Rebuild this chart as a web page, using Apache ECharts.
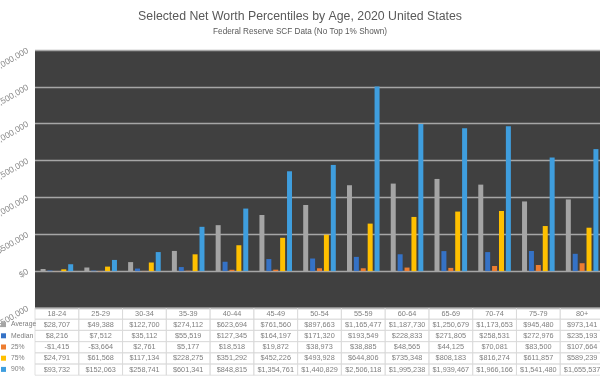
<!DOCTYPE html>
<html>
<head>
<meta charset="utf-8">
<script src="https://cdn.jsdelivr.net/npm/echarts@6/dist/echarts.min.js"></script>
<style>
html,body{margin:0;padding:0;background:#fff;}
#c{width:600px;height:380px;}
</style>
</head>
<body>
<div id="c"></div>
<script>
const categories = ['18-24','25-29','30-34','35-39','40-44','45-49','50-54','55-59','60-64','65-69','70-74','75-79','80+'];
const average = [28707,49388,122700,274112,623694,761560,897663,1165477,1187730,1250679,1173653,945480,973141];
const median = [8216,7512,35112,55519,127345,164197,171320,193549,228833,271805,258531,272976,235193];
const p25 = [-1415,-3664,2761,5177,18518,19872,38973,38885,48565,44125,70081,83500,107664];
const p75 = [24791,61568,117134,228275,351292,452226,493928,644806,735348,808183,816274,611857,589239];
const p90 = [93732,152063,258741,601341,848815,1354761,1440829,2506118,1995238,1939467,1966166,1541480,1655537];
const seriesNames = ['Average','Median','25%','75%','90%'];
const seriesData = [average, median, p25, p75, p90];
const colors = ['#a5a5a5','#3572c6','#ed7d31','#ffc000','#3f9ede'];

const gridLeft = 35, gridRight = -4;
const catW = (600 - gridLeft - gridRight) / categories.length;
const rowH = 11.2;

function money(v){
  const s = '$' + Math.abs(v).toLocaleString('en-US');
  return v < 0 ? '-' + s : s;
}
const cellStyle = {
  width: catW, height: rowH, lineHeight: rowH, align: 'center',
  borderColor: '#d9d9d9', borderWidth: 0.8,
  color: '#7f7f7f', fontSize: 7.3, fontFamily: 'Liberation Sans'
};

const chart = echarts.init(document.getElementById('c'), null, {renderer:'canvas'});
chart.setOption({
  animation: false,
  backgroundColor: '#ffffff',
  color: colors,
  title: {
    text: 'Selected Net Worth Percentiles by Age, 2020 United States',
    subtext: 'Federal Reserve SCF Data (No Top 1% Shown)',
    left: 'center', top: 6, itemGap: 5,
    textStyle: {fontSize: 12.3, fontWeight: 'normal', color: '#595959', fontFamily: 'Liberation Sans'},
    subtextStyle: {fontSize: 8.2, color: '#595959', fontFamily: 'Liberation Sans'}
  },
  legend: {
    data: seriesNames,
    orient: 'vertical', left: 1, top: 319,
    itemWidth: 5, itemHeight: 5, itemGap: 0,
    icon: 'rect', padding: 0,
    textStyle: {fontSize: 6.8, color: '#7f7f7f', lineHeight: rowH, fontFamily: 'Liberation Sans'},
    selectedMode: false
  },
  grid: {
    left: gridLeft, right: gridRight, top: 50, bottom: 72,
    outerBoundsMode: 'none', containLabel: false,
    show: true, backgroundColor: '#404040', borderWidth: 0
  },
  xAxis: {
    type: 'category', data: categories,
    axisLine: {show: false}, axisTick: {show: false},
    axisLabel: {
      interval: 0, margin: 0, verticalAlign: 'top',
      formatter: function(val, idx){
        let s = '{c|' + val + '}';
        seriesData.forEach(d => { s += '\n{c|' + money(d[idx]) + '}'; });
        return s;
      },
      rich: {c: cellStyle}
    }
  },
  yAxis: {
    type: 'value', min: -500000, max: 3000000, interval: 500000,
    axisLine: {show: false}, axisTick: {show: false},
    splitLine: {lineStyle: {color: '#a6a6a6', width: 1.3}},
    axisLabel: {
      rotate: 30, margin: 7, color: '#8c8c8c', fontSize: 8.5, fontFamily: 'Liberation Sans',
      formatter: v => money(v)
    }
  },
  series: seriesNames.map((n, i) => ({
    name: n, type: 'bar', data: seriesData[i],
    barWidth: 5, barGap: '38%'
  }))
});
</script>
</body>
</html>
